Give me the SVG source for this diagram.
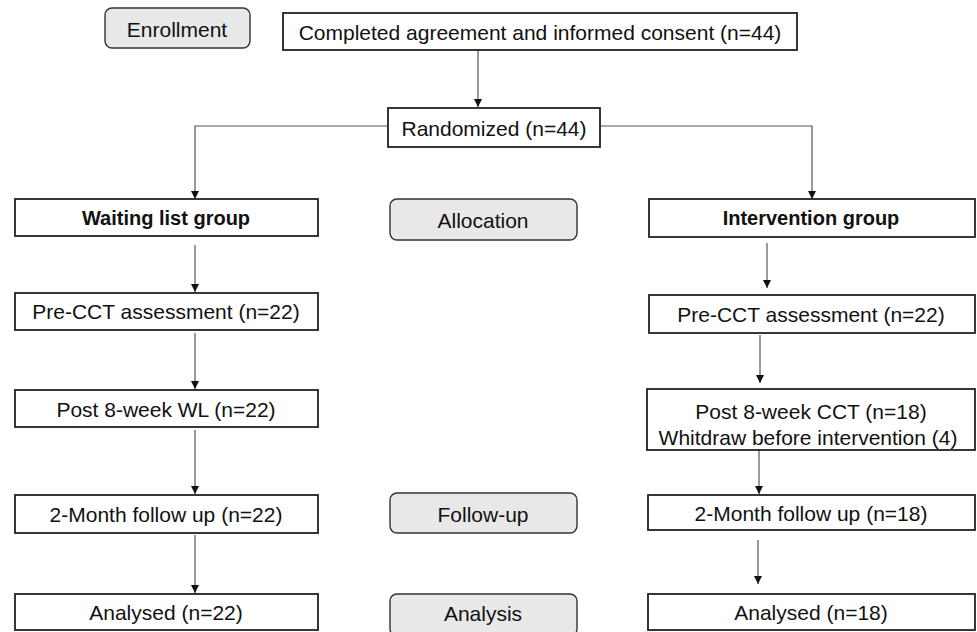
<svg xmlns="http://www.w3.org/2000/svg" width="977" height="632" viewBox="0 0 977 632">
<defs>
<marker id="ah" viewBox="0 0 10 10" refX="10" refY="5" markerWidth="10" markerHeight="8" markerUnits="userSpaceOnUse" orient="auto">
<path d="M0,0 L10,5 L0,10 z" fill="#111"/>
</marker>
<style>
.box{fill:#fff;stroke:#222;stroke-width:1.8}
.stage{fill:#e8e8e8;stroke:#333;stroke-width:1.4}
.t{font-family:"Liberation Sans",Arial,sans-serif;font-size:21px;fill:#111;text-anchor:middle;dominant-baseline:central}
.b{font-weight:bold;font-size:20px}
.ca{fill:none;stroke:#555;stroke-width:1.2;marker-end:url(#ah)}
</style>
</defs>
<rect width="977" height="632" fill="#fff"/>
<g id="connectors">
<line class="ca" x1="478" y1="50" x2="478" y2="107"/>
<polyline class="ca" points="388,126 195,126 195,199"/>
<polyline class="ca" points="600,126 812,126 812,199"/>
<line class="ca" x1="195" y1="245" x2="195" y2="292"/>
<line class="ca" x1="195" y1="333" x2="195" y2="389"/>
<line class="ca" x1="195" y1="430" x2="195" y2="494"/>
<line class="ca" x1="195" y1="535" x2="195" y2="593"/>
<line class="ca" x1="767" y1="243" x2="767" y2="288"/>
<line class="ca" x1="760" y1="335" x2="760" y2="383"/>
<line class="ca" x1="759" y1="450" x2="759" y2="494"/>
<line class="ca" x1="758" y1="540" x2="758" y2="584"/>
</g>
<g id="enrollment"><rect class="stage" x="105" y="8" width="145" height="40" rx="7"/><text class="t" x="177" y="29">Enrollment</text></g>
<g id="consent"><rect class="box" x="283" y="13" width="514" height="37"/><text class="t" x="540" y="32">Completed agreement and informed consent (n=44)</text></g>
<g id="randomized"><rect class="box" x="388" y="108" width="212" height="39"/><text class="t" x="494" y="128">Randomized (n=44)</text></g>
<g id="waiting"><rect class="box" x="15" y="199" width="303" height="37"/><text class="t b" x="166" y="218">Waiting list group</text></g>
<g id="allocation"><rect class="stage" x="390" y="199" width="187" height="41" rx="7"/><text class="t" x="483" y="220">Allocation</text></g>
<g id="intervention"><rect class="box" x="649" y="199" width="326" height="38"/><text class="t b" x="811" y="218">Intervention group</text></g>
<g id="pre-left"><rect class="box" x="15" y="293" width="303" height="37"/><text class="t" x="166" y="311">Pre-CCT assessment (n=22)</text></g>
<g id="pre-right"><rect class="box" x="649" y="295" width="326" height="38"/><text class="t" x="811" y="314">Pre-CCT assessment (n=22)</text></g>
<g id="post-left"><rect class="box" x="15" y="390" width="303" height="37"/><text class="t" x="166" y="409">Post 8-week WL (n=22)</text></g>
<g id="post-right"><rect class="box" x="647" y="389" width="328" height="61"/><text class="t" x="811" y="411">Post 8-week CCT  (n=18)</text><text class="t" x="808" y="437">Whitdraw before intervention (4)</text></g>
<g id="fu-left"><rect class="box" x="15" y="495" width="303" height="38"/><text class="t" x="166" y="514">2-Month follow up (n=22)</text></g>
<g id="followup"><rect class="stage" x="390" y="493" width="187" height="40" rx="7"/><text class="t" x="483" y="514">Follow-up</text></g>
<g id="fu-right"><rect class="box" x="648" y="495" width="327" height="35"/><text class="t" x="811" y="513">2-Month follow up (n=18)</text></g>
<g id="an-left"><rect class="box" x="15" y="594" width="303" height="36"/><text class="t" x="166" y="612">Analysed (n=22)</text></g>
<g id="analysis"><rect class="stage" x="390" y="594" width="187" height="42" rx="7"/><text class="t" x="483" y="613">Analysis</text></g>
<g id="an-right"><rect class="box" x="648" y="594" width="327" height="36"/><text class="t" x="811" y="612">Analysed (n=18)</text></g>
</svg>
